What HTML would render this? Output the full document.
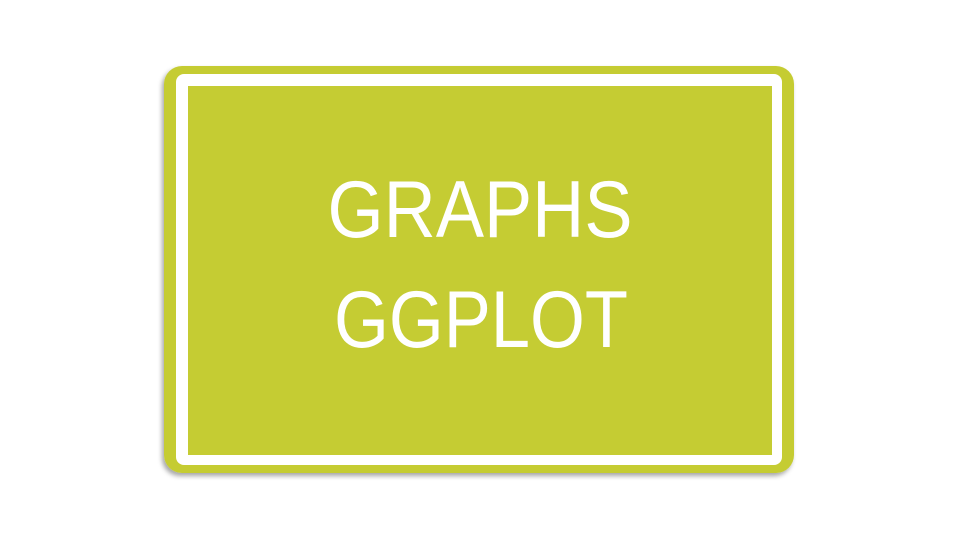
<!DOCTYPE html>
<html><head><meta charset="utf-8"><style>
html,body{margin:0;padding:0;background:#fff;width:960px;height:540px;overflow:hidden}
</style></head><body>
<svg width="960" height="540" viewBox="0 0 960 540">
<defs><filter id="sh" x="-10%" y="-10%" width="120%" height="130%"><feDropShadow dx="-2" dy="3" stdDeviation="2.5" flood-color="#000" flood-opacity="0.35"/></filter></defs>
<rect x="164" y="66" width="630" height="407" rx="18" fill="#c5cc33" filter="url(#sh)"/>
<rect x="176" y="74" width="606" height="391" rx="8" fill="#fff"/>
<rect x="188" y="86" width="584" height="369" fill="#c5cc33"/>
<text x="480" y="237" text-anchor="middle" font-family="Liberation Sans, sans-serif" font-size="81" fill="#fff" textLength="305" lengthAdjust="spacingAndGlyphs">GRAPHS</text>
<text x="481" y="347" text-anchor="middle" font-family="Liberation Sans, sans-serif" font-size="81" fill="#fff" textLength="294" lengthAdjust="spacingAndGlyphs">GGPLOT</text>
</svg>
</body></html>
